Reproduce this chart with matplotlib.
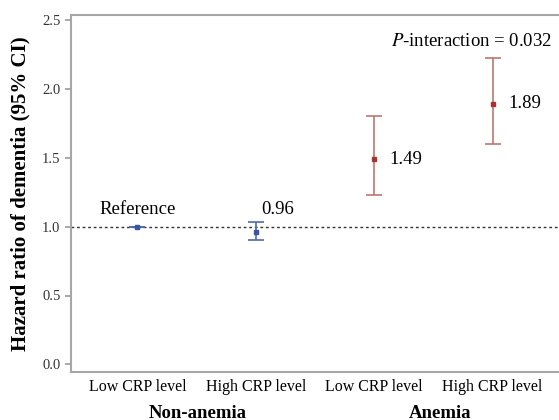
import numpy as np
import matplotlib
matplotlib.use("Agg")
import matplotlib.pyplot as plt

plt.rcParams['font.family'] = ['Liberation Serif', 'DejaVu Serif']

# data
groups = ["Non-anemia", "Anemia"]
crp_labels = ["Low CRP level", "High CRP level", "Low CRP level", "High CRP level"]
hr = [1.00, 0.96, 1.49, 1.89]
ci_low = [1.00, 0.90, 1.23, 1.60]
ci_high = [1.00, 1.03, 1.80, 2.22]
hr_text = ["Reference", "0.96", "1.49", "1.89"]
p_text = "0.032"

blue = "#3b55a0"
red = "#a8322c"
blue_bar = "#5068b0"
red_bar = "#c07570"

fig = plt.figure(figsize=(5.59, 4.2), dpi=100)
ax = fig.add_axes([71/559, 48/420, 488/559, 357/420])

x = np.arange(1, 5)
for i in range(4):
    c = blue if i < 2 else red
    ec = blue_bar if i < 2 else red_bar
    yerr = [[hr[i] - ci_low[i]], [ci_high[i] - hr[i]]]
    ax.errorbar(x[i], hr[i], yerr=yerr, fmt='s', color=c, ecolor=ec,
                ms=3.5, capsize=5.5, elinewidth=1.2, capthick=1.2, zorder=3)

ax.axhline(1.0, color='#333333', ls=(0, (2, 2)), lw=1, zorder=1)

# value labels
ax.text(x[0], 1.06, hr_text[0], ha='center', va='bottom', fontsize=13.5)
ax.text(x[1] + 0.05, 1.06, hr_text[1], ha='left', va='bottom', fontsize=13.5)
ax.text(x[2] + 0.13, hr[2], hr_text[2], ha='left', va='center', fontsize=13.5)
ax.text(x[3] + 0.13, hr[3], hr_text[3], ha='left', va='center', fontsize=13.5)
ax.text(4.5, 2.34, "$\\it{P}$-interaction = " + p_text, ha='right', va='center',
        fontsize=13.5, math_fontfamily='stix')

ax.set_xlim(0.44, 4.56)
ax.set_ylim(-0.055, 2.535)
ax.set_yticks([0.0, 0.5, 1.0, 1.5, 2.0, 2.5])
ax.set_yticklabels(["0.0", "0.5", "1.0", "1.5", "2.0", "2.5"], fontsize=10.5, color='#333333')
ax.set_xticks(x)
ax.set_xticklabels(crp_labels, fontsize=11.5)
ax.tick_params(axis='x', length=0, pad=5)
ax.tick_params(axis='y', length=4, color='#999999', width=1.2)

ax.set_ylabel("Hazard ratio of dementia (95% CI)", fontsize=15, fontweight='bold', labelpad=8)

for s in ['left', 'top', 'bottom']:
    ax.spines[s].set_color('#a6a6a6')
    ax.spines[s].set_linewidth(1.5)
ax.spines['right'].set_visible(False)

fig.text(198/559, 1 - 413/420, groups[0], ha='center', va='center', fontsize=13.5, fontweight='bold')
fig.text(440/559, 1 - 413/420, groups[1], ha='center', va='center', fontsize=13.5, fontweight='bold')

fig.savefig("out.png", dpi=100)
